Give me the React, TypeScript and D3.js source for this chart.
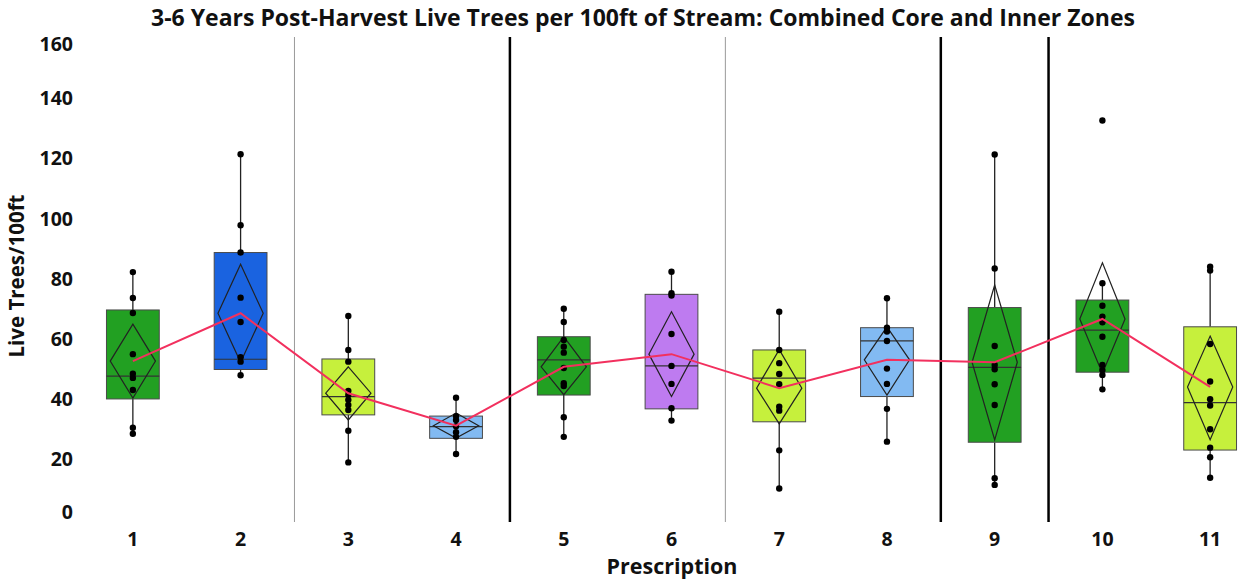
import React from "react";
import * as d3 from "d3";

const W = 1241;
const H = 584;

const categories = ["1", "2", "3", "4", "5", "6", "7", "8", "9", "10", "11"];
const q1 = [40.6, 50.4, 35.3, 27.5, 41.9, 37.3, 33.0, 41.4, 26.2, 49.5, 23.6];
const medians = [48.2, 53.8, 41.4, 31.4, 53.6, 51.6, 47.5, 59.9, 51.1, 63.5, 39.4];
const q3 = [70.2, 89.3, 53.9, 34.9, 61.3, 75.4, 56.9, 64.3, 71.0, 73.5, 64.6];
const whiskerLow = [29.0, 48.5, 19.5, 22.3, 28.0, 33.4, 10.8, 26.4, 12.0, 43.8, 14.4];
const whiskerHigh = [82.8, 122.0, 68.2, 41.0, 70.6, 82.9, 69.6, 74.1, 121.9, 79.1, 84.6];
const means = [53.2, 69.1, 42.5, 31.7, 51.3, 55.5, 44.2, 53.6, 52.8, 67.2, 44.6];
const ciLow = [40.9, 52.8, 33.6, 27.6, 42.0, 41.4, 32.3, 41.9, 27.0, 49.1, 27.0];
const ciHigh = [65.5, 85.4, 51.3, 35.9, 61.3, 69.6, 57.0, 64.6, 78.5, 85.9, 61.5];
const points: number[][] = [
  [82.8, 74.2, 69.2, 55.5, 49.0, 47.6, 43.6, 31.0, 29.0],
  [122.0, 98.4, 89.3, 74.3, 66.2, 54.5, 53.0, 48.5],
  [68.2, 56.9, 53.0, 43.3, 41.9, 40.3, 38.6, 36.9, 30.0, 19.5],
  [41.0, 34.9, 33.6, 31.5, 29.5, 28.0, 22.3],
  [70.6, 66.2, 60.2, 58.0, 56.0, 50.9, 45.8, 44.9, 34.5, 28.0],
  [82.9, 75.8, 75.0, 62.2, 51.6, 45.6, 37.5, 33.4],
  [69.6, 56.9, 52.5, 48.9, 45.5, 38.0, 36.7, 23.5, 10.8],
  [74.1, 64.3, 63.0, 59.9, 50.7, 45.6, 37.3, 26.4],
  [121.9, 84.0, 58.2, 51.9, 50.5, 45.5, 38.6, 14.2, 12.0],
  [133.2, 79.1, 71.6, 68.0, 66.1, 61.3, 51.9, 50.2, 48.6, 43.8],
  [84.6, 83.3, 58.9, 46.4, 40.5, 38.4, 30.5, 24.4, 21.2, 14.4],
];
const yTicks = [0, 20, 40, 60, 80, 100, 120, 140, 160];
// separators drawn after these categories (index), heavy = thick black
const separatorsAfter = [2, 4, 6, 8, 9];
const heavySeparators = [4, 8, 9];

// style: fill per box
const boxFill = [
  "#22A022", "#1A63E0", "#C6F03C", "#82BAF2", "#22A022", "#BE7BF0",
  "#C6F03C", "#82BAF2", "#22A022", "#22A022", "#C6F03C",
];

const FONT = "'Open Sans', 'DejaVu Sans', sans-serif";

export default function App() {
  const x = d3.scaleBand<string>().domain(categories).range([79, 1264]).padding(0);
  const y = d3.scaleLinear().domain([0, 160]).range([521, 40]);
  const bw = x.bandwidth();
  const cx = (i: number) => (x(categories[i]) as number) + bw / 2;
  const boxW = bw * 0.49;
  const diaW = bw * 0.42;

  const meanLine = d3
    .line<number>()
    .x((_, i) => cx(i))
    .y((d) => y(d));

  return (
    <svg
      width={W}
      height={H}
      style={{ position: "absolute", left: 0, top: 0, background: "#fff" }}
      fontFamily={FONT}
    >
      <text x={643} y={20} textAnchor="middle" dominantBaseline="middle" fontSize={23} fontWeight="bold" fill="#111">
        3-6 Years Post-Harvest Live Trees per 100ft of Stream: Combined Core and Inner Zones
      </text>

      {/* y tick labels */}
      {yTicks.map((t) => (
        <text
          key={t}
          x={73}
          y={Math.min(Math.max(y(t), 46), 514)}
          textAnchor="end"
          dominantBaseline="middle"
          fontSize={19.5}
          fontWeight="bold"
          fill="#111"
        >
          {t}
        </text>
      ))}
      <text
        transform={`translate(19,${276}) rotate(-90)`}
        textAnchor="middle"
        dominantBaseline="middle"
        fontSize={20.5}
        fontWeight="bold"
        fill="#111"
      >
        Live Trees/100ft
      </text>

      {/* separators */}
      {separatorsAfter.map((i) => {
        const sx = (x(categories[i - 1]) as number) + bw;
        const heavy = heavySeparators.includes(i);
        return (
          <line
            key={i}
            x1={sx}
            x2={sx}
            y1={37}
            y2={522}
            stroke={heavy ? "#000" : "#999"}
            strokeWidth={heavy ? 2.5 : 1}
          />
        );
      })}

      {/* boxes */}
      {categories.map((c, i) => {
        const xc = cx(i);
        return (
          <g key={c}>
            <line x1={xc} x2={xc} y1={y(whiskerHigh[i])} y2={y(q3[i])} stroke="#222" strokeWidth={1.3} />
            <line x1={xc} x2={xc} y1={y(q1[i])} y2={y(whiskerLow[i])} stroke="#222" strokeWidth={1.3} />
            <rect
              x={xc - boxW / 2}
              y={y(q3[i])}
              width={boxW}
              height={y(q1[i]) - y(q3[i])}
              fill={boxFill[i]}
              stroke="#4a4a4a"
              strokeWidth={1}
            />
            <line
              x1={xc - boxW / 2}
              x2={xc + boxW / 2}
              y1={y(medians[i])}
              y2={y(medians[i])}
              stroke="#333"
              strokeWidth={1.2}
            />
            <path
              d={`M${xc},${y(ciHigh[i])}L${xc + diaW / 2},${y(means[i])}L${xc},${y(ciLow[i])}L${xc - diaW / 2},${y(means[i])}Z`}
              fill="none"
              stroke="#222"
              strokeWidth={1.2}
            />
            {points[i].map((v, k) => (
              <circle key={k} cx={xc} cy={y(v)} r={3.2} fill="#000" />
            ))}
          </g>
        );
      })}

      <path d={meanLine(means) || ""} fill="none" stroke="#F2305E" strokeWidth={2} />

      {/* x labels */}
      {categories.map((c, i) => (
        <text
          key={c}
          x={cx(i)}
          y={541}
          textAnchor="middle"
          dominantBaseline="middle"
          fontSize={19.5}
          fontWeight="bold"
          fill="#111"
        >
          {c}
        </text>
      ))}
      <text x={672} y={568} textAnchor="middle" dominantBaseline="middle" fontSize={21.5} fontWeight="bold" fill="#111">
        Prescription
      </text>
    </svg>
  );
}
